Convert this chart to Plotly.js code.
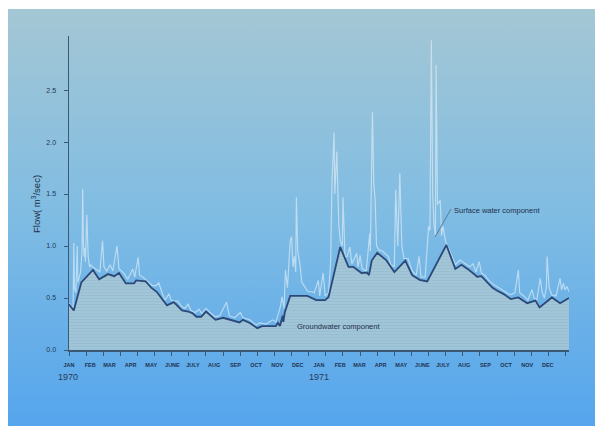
<!DOCTYPE html>
<html>
<head>
<meta charset="utf-8">
<script src="https://cdn.plot.ly/plotly-3.0.1.min.js"></script>
<style>html,body{margin:0;padding:0;background:#fff;}#chart{width:595px;height:426px;}</style>
</head>
<body>
<div id="chart"></div>
<script>
// Month tick labels (day of period, Jan 1 1970 = day 0)
const monthDays = [0,31,59,90,120,151,181,212,243,273,304,334,365,396,424,455,485,516,546,577,608,638,669,699];
const monthNames = ["JAN","FEB","MAR","APR","MAY","JUNE","JULY","AUG","SEP","OCT","NOV","DEC",
                    "JAN","FEB","MAR","APR","MAY","JUNE","JULY","AUG","SEP","OCT","NOV","DEC"];
const yTicks = [0,0.5,1.0,1.5,2.0,2.5];
const yTickText = ["0.0","0.5","1.0","1.5","2.0","2.5"];

// Groundwater (baseflow) component
const gwDay = [0,7,18,35,44,57,66,73,83,95,98,112,116,120,128,143,153,165,174,180,186,193,200,214,225,239,249,254,264,275,282,293,302,305,308,312,313,315,323,336,348,361,374,379,396,408,415,427,435,438,442,450,463,475,491,501,512,523,551,564,573,583,596,602,611,618,624,634,645,656,669,681,687,705,717,730];
const gwFlow = [0.44,0.38,0.65,0.77,0.68,0.73,0.71,0.74,0.64,0.64,0.67,0.66,0.63,0.60,0.56,0.43,0.46,0.38,0.37,0.355,0.32,0.32,0.37,0.29,0.31,0.28,0.265,0.29,0.26,0.21,0.23,0.23,0.23,0.26,0.23,0.33,0.27,0.36,0.52,0.52,0.52,0.48,0.48,0.51,0.99,0.80,0.80,0.74,0.745,0.72,0.86,0.935,0.865,0.75,0.86,0.72,0.675,0.66,1.01,0.78,0.82,0.775,0.705,0.71,0.65,0.60,0.575,0.54,0.49,0.505,0.45,0.475,0.41,0.505,0.45,0.50];

// Total flow (surface water component on top of baseflow)
const swDay = [0,3,6,7,8,10,12,13,15,17,19,20,21,22,23,24,26,27,28,30,32,34,36,45,49,51,55,60,64,70,73,80,86,93,96,101,103,108,115,121,127,131,136,140,146,149,153,159,164,169,174,178,184,190,194,200,206,213,220,230,234,242,250,254,264,273,279,288,297,302,306,309,311,314,316,319,323,325,327,329,331,332,334,337,340,345,349,355,358,364,366,371,374,379,382,384,387,388,391,392,394,396,399,400,403,406,410,413,420,422,425,428,434,439,440,443,445,447,449,453,458,466,470,475,477,480,483,486,489,495,501,507,511,514,520,525,527,529,531,533,535,536,538,542,544,546,550,556,564,571,578,585,590,594,599,602,607,614,622,629,637,644,651,656,658,664,670,676,679,683,688,691,694,697,698,701,705,711,717,719,722,724,727,730];
const swFlow = [0.45,0.42,0.40,1.03,0.60,0.55,1.00,0.65,0.70,0.75,0.95,1.55,1.05,0.90,0.98,0.85,1.30,1.00,0.90,0.80,0.82,0.80,0.79,0.75,1.05,0.80,0.76,0.82,0.76,1.00,0.78,0.74,0.68,0.78,0.70,0.89,0.72,0.70,0.66,0.62,0.62,0.645,0.55,0.48,0.54,0.48,0.47,0.47,0.42,0.40,0.44,0.38,0.36,0.39,0.35,0.40,0.36,0.32,0.33,0.46,0.33,0.31,0.36,0.31,0.29,0.24,0.26,0.25,0.29,0.27,0.355,0.43,0.51,0.40,0.77,0.60,1.05,1.09,0.80,0.90,0.75,1.47,0.95,0.83,0.65,0.60,0.56,0.56,0.55,0.67,0.52,0.74,0.52,0.55,0.85,1.63,2.09,1.50,1.91,1.67,1.20,1.05,1.00,1.47,0.90,0.90,0.99,0.83,0.93,0.80,0.91,0.78,0.76,1.12,0.95,2.29,1.60,1.44,1.00,0.96,0.95,0.90,0.82,0.80,1.54,1.00,1.70,1.00,0.88,0.88,0.76,0.72,0.90,0.70,0.70,1.19,1.15,2.98,1.50,1.20,1.10,2.74,1.40,1.44,1.10,1.19,1.04,0.95,0.82,0.865,0.83,0.80,0.83,0.75,0.85,0.74,0.72,0.66,0.62,0.59,0.56,0.53,0.55,0.77,0.55,0.52,0.48,0.58,0.50,0.48,0.69,0.55,0.50,0.60,0.90,0.60,0.53,0.52,0.69,0.58,0.64,0.58,0.61,0.56];

const axisColor = "#3b5875";
const textColor = "#22374f";
const fontFam = "Liberation Sans, Arial, sans-serif";

const traces = [
  { // background gradient panel
    x: [8,595,595,8,8], y: [0,0,417,417,0], xaxis: "x", yaxis: "y",
    type: "scatter", mode: "lines", fill: "toself", line: {width: 0},
    fillgradient: {type: "vertical", colorscale: [[0, "#55a5ed"], [0.5, "#7fbce3"], [1, "#a4c7d4"]]},
    hoverinfo: "skip", showlegend: false
  },
  { // groundwater fill
    x: gwDay, y: gwFlow, xaxis: "x2", yaxis: "y2", type: "scatter", mode: "lines",
    line: {width: 0}, fill: "tozeroy", fillcolor: "rgba(168,200,212,0.85)",
    fillpattern: {shape: "-", fgcolor: "rgba(130,168,188,0.4)", bgcolor: "rgba(170,201,213,0.85)", size: 3, solidity: 0.2},
    hoverinfo: "skip", showlegend: false
  },
  { // surface water (total flow)
    x: swDay, y: swFlow, xaxis: "x2", yaxis: "y2", type: "scatter", mode: "lines",
    line: {color: "rgba(225,238,246,0.65)", width: 1.2}, showlegend: false
  },
  { // groundwater line
    x: gwDay, y: gwFlow, xaxis: "x2", yaxis: "y2", type: "scatter", mode: "lines",
    line: {color: "#2c4877", width: 1.8}, showlegend: false
  }
];

const layout = {
  width: 595, height: 426,
  margin: {l: 0, r: 0, t: 0, b: 0},
  paper_bgcolor: "#ffffff", plot_bgcolor: "rgba(0,0,0,0)",
  showlegend: false,
  font: {family: fontFam, color: textColor},
  xaxis: {domain: [0, 1], range: [0, 595], visible: false, fixedrange: true},
  yaxis: {domain: [0, 1], range: [0, 426], visible: false, fixedrange: true},
  xaxis2: {
    domain: [69/595, 569/595], anchor: "y2", range: [0, 730],
    showline: true, linecolor: axisColor, linewidth: 1.5,
    showgrid: false, zeroline: false,
    tickmode: "array", tickvals: monthDays, ticktext: monthNames,
    ticks: "", ticklabelstandoff: 9,
    tickfont: {size: 5.5, color: "#1f3350", family: fontFam, weight: "bold"},
    minor: {tick0: 0, dtick: 25, ticks: "outside", ticklen: 4, tickcolor: axisColor, tickwidth: 1, showgrid: false}
  },
  yaxis2: {
    domain: [(426-350)/426, (426-36)/426], anchor: "x2", range: [0, 3.02],
    showline: true, linecolor: axisColor, linewidth: 1.5,
    showgrid: false, zeroline: false,
    tickmode: "array", tickvals: yTicks, ticktext: yTickText,
    ticks: "outside", ticklen: 4, tickcolor: axisColor, tickwidth: 1,
    ticklabelstandoff: 6,
    tickfont: {size: 7, color: textColor, family: fontFam}
  },
  annotations: [
    {text: "Flow( m<sup>3</sup>/sec)", xref: "paper", yref: "paper", x: 36/595, y: (426-204)/426,
     textangle: -90, showarrow: false, xanchor: "center", yanchor: "middle",
     font: {size: 9.5, color: "#1f2f45", family: fontFam}},
    {text: "1970", xref: "paper", yref: "paper", x: 68/595, y: (426-377)/426,
     showarrow: false, xanchor: "center", yanchor: "middle", font: {size: 9, color: "#2a3c56", family: fontFam}},
    {text: "1971", xref: "paper", yref: "paper", x: 319/595, y: (426-377)/426,
     showarrow: false, xanchor: "center", yanchor: "middle", font: {size: 9, color: "#2a3c56", family: fontFam}},
    {text: "Surface water component", xref: "paper", yref: "paper", x: 452/595, y: (426-210)/426,
     showarrow: false, xanchor: "left", yanchor: "middle", font: {size: 7.5, color: "#1d2f4a", family: fontFam}},
    {text: "Groundwater component", xref: "paper", yref: "paper", x: 295/595, y: (426-326)/426,
     showarrow: false, xanchor: "left", yanchor: "middle", font: {size: 7.5, color: "#1d2f4a", family: fontFam}}
  ],
  shapes: [
    {type: "line", xref: "paper", yref: "paper", x0: 451/595, y0: (426-209)/426, x1: 435/595, y1: (426-237)/426,
     line: {color: "#5a7c98", width: 1}}
  ]
};

Plotly.newPlot("chart", traces, layout, {displayModeBar: false, staticPlot: true});
</script>
</body>
</html>
